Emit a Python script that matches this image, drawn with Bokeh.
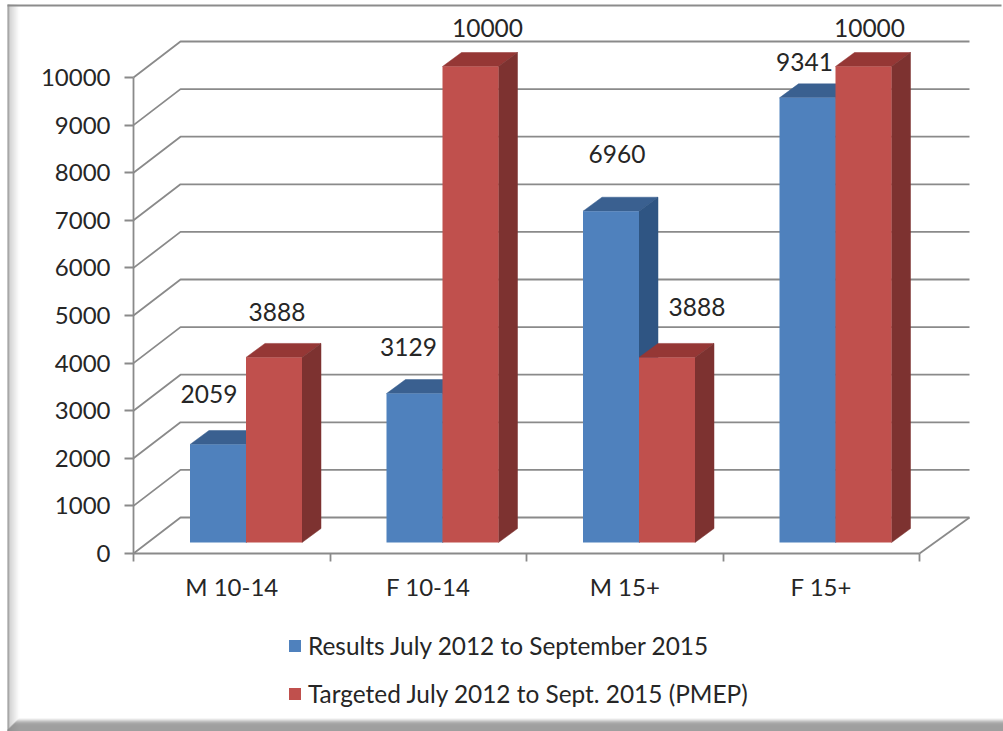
from bokeh.plotting import figure
from bokeh.embed import file_html
from bokeh.resources import INLINE
from bokeh.core.properties import value
from bokeh.models import (BoxAnnotation, Range1d, FixedTicker, LinearAxis,
                          Legend, LegendItem, ColumnDataSource)

categories = ["M 10-14", "F 10-14", "M 15+", "F 15+"]
results = [2059, 3129, 6960, 9341]
targeted = [3888, 10000, 3888, 10000]
y_ticks = [0, 1000, 2000, 3000, 4000, 5000, 6000, 7000, 8000, 9000, 10000]
series_names = ["Results July 2012 to September 2015", "Targeted July 2012 to Sept. 2015 (PMEP)"]

# layout of the pseudo-3D scene, in axis units
W, H = 1003, 731
PX_X, PX_Y = 196.5, 0.0476       # pixels per category, pixels per value unit
X0, Y0 = 133, 553                # where (0,0) falls on the canvas
WALL_L, WALL_R, WALL_H = 47 / PX_X, 50 / PX_X, 36 / PX_Y
BAR_OFF, BAR_W = 56.5 / PX_X, 56 / PX_X
BAR_BASE = 11 / PX_Y
DEPTH_X, DEPTH_Y = 19 / PX_X, 14 / PX_Y

FONT = "Lato"
TEXT = "#262626"
GRID = "#8a8a8a"

p = figure(width=W, height=H, output_backend="svg", toolbar_location=None,
           x_range=Range1d(-X0 / PX_X, (W - X0) / PX_X),
           y_range=Range1d((Y0 - H) / PX_Y, Y0 / PX_Y),
           min_border=0, x_axis_type=None, y_axis_type=None,
           background_fill_color="white", border_fill_color="white")
p.outline_line_color = None
p.grid.visible = False

# walls and floor
for t in y_ticks:
    p.line([0, WALL_L, 4 + WALL_R], [t, t + WALL_H, t + WALL_H], line_color=GRID, line_width=1.8)
p.line([4, 4 + WALL_R], [0, WALL_H], line_color=GRID, line_width=1.8)


def bars(vals, offs, front, top, side):
    lefts = [i + offs for i in range(4)]
    rights = [l + BAR_W for l in lefts]
    base = [BAR_BASE] * 4
    p.patches([[l, l + DEPTH_X, r + DEPTH_X, r] for l, r in zip(lefts, rights)],
              [[v + BAR_BASE, v + BAR_BASE + DEPTH_Y, v + BAR_BASE + DEPTH_Y, v + BAR_BASE] for v in vals],
              fill_color=top, line_color=top, line_width=0.5)
    p.patches([[r, r + DEPTH_X, r + DEPTH_X, r] for r in rights],
              [[v + BAR_BASE, v + BAR_BASE + DEPTH_Y, BAR_BASE + DEPTH_Y, BAR_BASE] for v in vals],
              fill_color=side, line_color=side, line_width=0.5)
    return p.quad(left=lefts, right=rights, bottom=base, top=[v + BAR_BASE for v in vals],
                  fill_color=front, line_color=None)


r_blue = bars(results, BAR_OFF, "#4F81BD", "#3A6090", "#2F5583")
r_red = bars(targeted, BAR_OFF + BAR_W, "#C0504D", "#953735", "#7D3230")

# data labels (px offsets as placed in the reference)
res_dx, res_dy = [-9, -6, 6, -3], [50, 47, 57, 36]
tar_dx, tar_dy = [3, 17, 30, 6], [45, 39, 50, 39]
for vals, offs, dxs, dys in ((results, BAR_OFF, res_dx, res_dy), (targeted, BAR_OFF + BAR_W, tar_dx, tar_dy)):
    src = ColumnDataSource(dict(x=[i + offs + BAR_W / 2 for i in range(4)],
                                y=[v + BAR_BASE for v in vals],
                                t=[str(v) for v in vals],
                                dx=dxs, dy=[-d for d in dys]))
    p.text("x", "y", text="t", source=src, x_offset="dx", y_offset="dy", text_align="center",
           text_baseline="middle", text_font=value(FONT), text_font_size="24.5px", text_color=TEXT)

# axes
ya = LinearAxis(ticker=FixedTicker(ticks=y_ticks), fixed_location=0, bounds=(0, 10000))
ya.axis_line_color = GRID
ya.axis_line_width = 1.8
ya.major_tick_line_color = GRID
ya.major_tick_line_width = 1.8
ya.major_tick_out = 9
ya.major_tick_in = 0
ya.minor_tick_line_color = None
ya.major_label_standoff = 14
ya.major_label_text_font = FONT
ya.major_label_text_font_size = "24px"
ya.major_label_text_color = TEXT
p.add_layout(ya, "left")

centres = [i + 0.5 for i in range(4)]
xa = LinearAxis(ticker=FixedTicker(ticks=centres, minor_ticks=[0, 1, 2, 3, 4]), fixed_location=0, bounds=(0, 4),
                major_label_overrides=dict(zip(centres, categories)))
xa.axis_line_color = GRID
xa.axis_line_width = 1.8
xa.major_tick_line_color = None
xa.minor_tick_line_color = GRID
xa.minor_tick_line_width = 1.8
xa.minor_tick_out = 8
xa.minor_tick_in = 0
xa.major_tick_out = 0
xa.major_tick_in = 0
xa.major_label_standoff = 10
xa.major_label_text_font = FONT
xa.major_label_text_font_size = "24px"
xa.major_label_text_color = TEXT
p.add_layout(xa, "below")

# legend
leg = Legend(items=[LegendItem(label=series_names[0], renderers=[r_blue]),
                    LegendItem(label=series_names[1], renderers=[r_red])],
             location=(287, 23), orientation="vertical", padding=0, margin=0, spacing=19,
             glyph_width=15, glyph_height=15, label_standoff=6, label_height=17,
             border_line_color=None, background_fill_alpha=0,
             label_text_font=FONT, label_text_font_size="24.4px", label_text_color=TEXT)
p.add_layout(leg)

# picture frame bevel: data-space quads beyond the scene, so they scale with the canvas
def px_x(v):
    return (v - X0) / PX_X


def px_y(v):
    return (Y0 - v) / PX_Y


bevel = ["#8c8c8c", "#8c8c8c", "#c6c6c6", "#cccccc", "#d2d2d2", "#d8d8d8", "#dedede", "#e4e4e4", "#eaeaea", "#f0f0f0", "#f6f6f6", "#fbfbfb"]
p.quad(left=[px_x(7 + i) for i in range(12)], right=[px_x(8 + i) for i in range(12)],
       top=[px_y(4)] * 12, bottom=[px_y(731)] * 12, fill_color=bevel, line_color=None)
p.quad(left=[px_x(7)], right=[px_x(1001)], top=[px_y(4)], bottom=[px_y(6)], fill_color="#8c8c8c", line_color=None)
foot = ["#eeeeee", "#d6d6d6", "#bcbcbc", "#a4a4a4", "#929292", "#868686", "#828282", "#808080", "#808080", "#808080", "#808080", "#808080", "#808080"]
p.quad(left=[px_x(max(7, 18 - i)) for i in range(13)], right=[px_x(W)] * 13,
       top=[px_y(718 + i) for i in range(13)], bottom=[px_y(719 + i) for i in range(13)],
       fill_color=foot, line_color=None)

open("out.html", "w").write(file_html(p, INLINE))
